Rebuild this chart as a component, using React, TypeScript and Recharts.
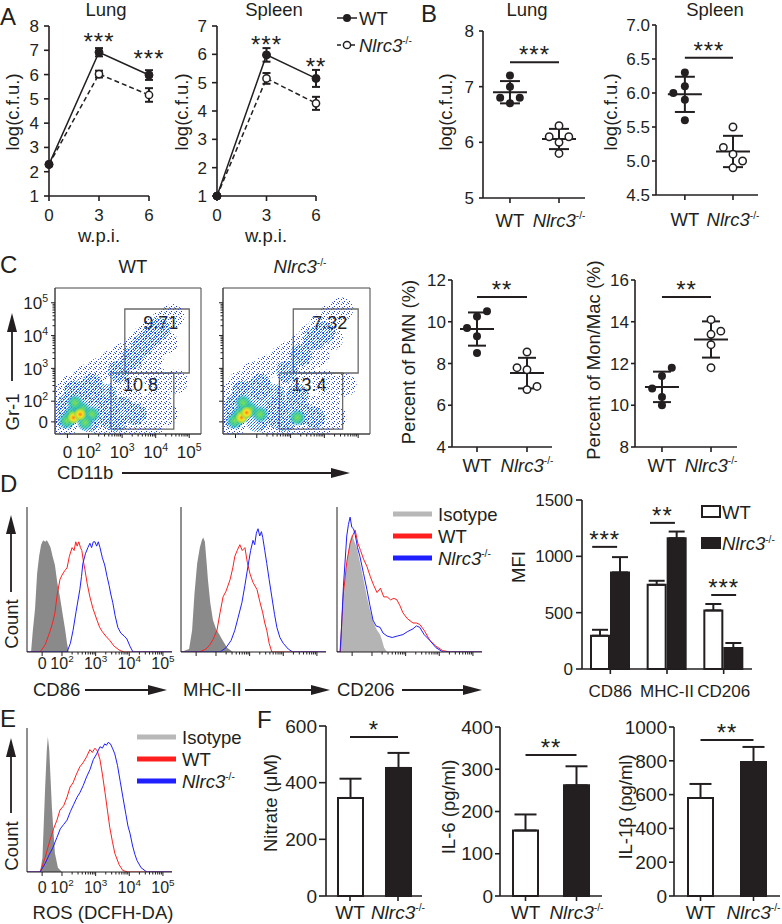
import React from 'react';
import {
  LineChart, Line, XAxis, YAxis, ErrorBar, ScatterChart, Scatter, ReferenceLine,
  ReferenceDot, ReferenceArea, BarChart, Bar, Cell, ComposedChart, Area,
} from 'recharts';

const INK = '#231f20';
const FONT = '"Liberation Sans", Arial, Helvetica, sans-serif';
const RED = '#ff1f1f';
const BLUE = '#1f1fff';
const TICK = 17;
const LBL = 18.5;

// ---- A: c.f.u. after infection (weeks post infection)
const WPI = [0, 3, 6];
const LUNG_TICKS = [1, 2, 3, 4, 5, 6, 7, 8];
const SPLEEN_TICKS = [1, 2, 3, 4, 5, 6, 7];
const LUNG_WT = [2.3, 6.92, 5.98];
const LUNG_WT_SD = [0, 0.17, 0.2];
const LUNG_KO = [2.3, 6.02, 5.16];
const LUNG_KO_SD = [0, 0.14, 0.28];
const SPLEEN_WT = [1.0, 5.98, 5.15];
const SPLEEN_WT_SD = [0, 0.24, 0.3];
const SPLEEN_KO = [1.0, 5.15, 4.27];
const SPLEEN_KO_SD = [0, 0.19, 0.23];
const LUNG_STARS = ['', '***', '***'];
const LUNG_STAR_Y = [0, 7.56, 6.88];
const SPLEEN_STARS = ['', '***', '**'];
const SPLEEN_STAR_Y = [0, 6.51, 5.74];

// ---- B / C: individual mice
const B_LUNG_WT = [7.2, 7.0, 6.8, 6.8, 6.7];
const B_LUNG_KO = [6.3, 6.1, 6.0, 6.1, 5.8];
const B_SPLEEN_WT = [6.3, 6.1, 6.0, 5.9, 5.6];
const B_SPLEEN_KO = [5.5, 5.2, 5.1, 5.0, 4.9];
const PMN_WT = [10.5, 10.25, 9.7, 9.3, 8.5];
const PMN_KO = [8.55, 7.8, 7.7, 6.9, 6.75];
const MON_WT = [11.8, 11.4, 10.8, 10.4, 10.0];
const MON_KO = [14.1, 13.4, 13.55, 12.9, 11.8];
// horizontal spread of overlapping dots (axis units)
const JIT_B_LUNG_WT = [0, 0, -0.2, 0.2, 0];
const JIT_B_LUNG_KO = [0, -0.2, 0, 0.2, 0];
const JIT_B_SPLEEN_WT = [0, 0, -0.24, 0, 0];
const JIT_B_SPLEEN_KO = [0, -0.2, 0, 0.2, 0];
const JIT_PMN_WT = [0.2, 0, -0.2, 0, 0];
const JIT_PMN_KO = [0, -0.2, 0, 0.2, 0];
const JIT_MON_WT = [0.2, 0, -0.2, 0, 0];
const JIT_MON_KO = [0, 0, 0.2, 0, 0];
const B_LUNG_TICKS = [5, 6, 7, 8];
const B_SPLEEN_TICKS = [4.5, 5, 5.5, 6, 6.5, 7];
const PMN_TICKS = [4, 6, 8, 10, 12];
const MON_TICKS = [8, 10, 12, 14, 16];
const B_LUNG_SIG = { y: 7.44, t: '***' };
const B_SPLEEN_SIG = { y: 6.52, t: '***' };
const PMN_SIG = { y: 11.19, t: '**' };
const MON_SIG = { y: 15.19, t: '**' };

// ---- C: flow cytometry (log10 intensity, CD11b vs Gr-1), density levels 1..4
const WT_L1 = [[1.2, 2.2], [1.5, 2.45], [1.9, 2.75], [2.3, 2.95], [2.7, 3.2], [3.0, 3.4], [3.3, 3.6], [3.6, 3.9], [3.9, 4.2], [4.2, 4.4], [4.5, 4.6], [4.3, 3.8], [3.9, 3.4], [3.5, 3.1], [3.1, 2.7], [2.9, 2.3], [3.3, 2.0], [3.7, 1.8], [4.1, 2.1], [4.3, 1.6], [3.9, 1.3], [3.4, 1.3], [2.9, 1.25], [2.4, 1.25], [1.3, 1.25], [2.6, 1.8], [2.1, 2.3], [1.4, 1.8], [4.6, 2.6], [4.0, 2.7]];
const WT_L2 = [[1.4, 1.9], [1.8, 2.1], [2.2, 1.8], [2.5, 2.2], [2.0, 1.4], [1.3, 1.5], [1.2, 1.7], [1.6, 2.3], [2.1, 2.5], [2.6, 1.5], [3.6, 3.7], [3.9, 4.0], [4.1, 4.2], [3.3, 3.3], [2.9, 2.9], [3.0, 1.8], [3.4, 1.6], [2.8, 1.4]];
const WT_L3 = [[1.5, 1.6], [1.8, 1.75], [1.6, 1.95], [2.1, 1.6], [1.35, 1.4], [1.9, 1.35]];
const WT_L4 = [[1.55, 1.5], [1.75, 1.6]];
const KO_L1 = [[1.2, 2.2], [1.5, 2.55], [1.9, 2.85], [2.3, 3.05], [2.7, 3.3], [3.0, 3.5], [3.3, 3.7], [3.6, 4.0], [3.9, 4.3], [4.2, 4.6], [4.5, 4.8], [4.2, 3.9], [3.8, 3.4], [3.4, 3.0], [3.0, 2.6], [2.9, 2.2], [3.3, 2.0], [3.7, 1.8], [4.1, 2.0], [4.3, 1.5], [3.9, 1.3], [3.4, 1.3], [2.9, 1.25], [2.4, 1.25], [1.3, 1.25], [2.6, 1.8], [2.1, 2.4], [1.4, 1.8], [4.6, 2.5], [4.0, 2.6]];
const KO_L2 = [[1.4, 1.9], [1.8, 2.1], [2.2, 1.8], [2.5, 2.2], [2.0, 1.4], [1.3, 1.5], [1.2, 1.7], [1.6, 2.3], [2.1, 2.5], [2.6, 1.5], [3.7, 3.9], [4.0, 4.1], [3.3, 3.4], [2.9, 2.9], [3.0, 1.8], [3.4, 1.6], [2.8, 1.4], [3.2, 2.2], [3.7, 1.5]];
const KO_L3 = [[1.5, 1.6], [1.8, 1.75], [1.6, 1.95], [2.1, 1.6], [1.35, 1.4], [3.2, 1.5]];
const KO_L4 = [[1.55, 1.5], [1.7, 1.65]];
const GATE_HI = { x0: 3.08, x1: 5.0, y0: 2.86, y1: 4.81 };
const GATE_LO = { x0: 2.67, x1: 4.54, y0: 1.15, y1: 2.86 };
const WT_PCT = ['9.71', '10.8'];
const KO_PCT = ['7.32', '13.4'];

// ---- D / E: histograms, [log10 intensity, % of max]
const CD86_ISO = [[0.96, 0], [1.08, 0], [1.13, 14], [1.2, 30], [1.26, 54], [1.32, 66], [1.38, 74], [1.44, 77], [1.5, 76], [1.55, 77], [1.6, 75], [1.66, 72], [1.72, 66], [1.79, 60], [1.86, 48], [1.94, 38], [2.02, 26], [2.09, 16], [2.15, 6], [2.2, 0], [5.27, 0]];
const CD86_WT = [[0.96, 0], [1.35, 0], [1.5, 5], [1.64, 14], [1.72, 20], [1.79, 27], [1.86, 40], [1.94, 50], [2.0, 53], [2.08, 56], [2.15, 58], [2.22, 66], [2.3, 72], [2.36, 70], [2.41, 76], [2.45, 73], [2.5, 76], [2.55, 72], [2.59, 70], [2.64, 62], [2.68, 57], [2.75, 47], [2.83, 38], [2.92, 30], [3.04, 22], [3.12, 17], [3.2, 14], [3.3, 11], [3.42, 8], [3.55, 4], [3.72, 1], [3.85, 0], [5.27, 0]];
const CD86_KO = [[0.96, 0], [2.15, 0], [2.25, 6], [2.33, 15], [2.42, 28], [2.53, 43], [2.58, 52], [2.62, 61], [2.7, 68], [2.77, 72], [2.83, 75], [2.88, 72], [2.93, 76], [2.98, 76], [3.03, 73], [3.08, 76], [3.13, 72], [3.2, 65], [3.27, 60], [3.34, 52], [3.4, 46], [3.45, 40], [3.51, 34], [3.58, 25], [3.66, 17], [3.75, 13], [3.85, 11], [3.93, 9], [4.02, 4], [4.11, 0], [5.27, 0]];
const MHC_ISO = [[0.96, 0], [1.2, 2], [1.29, 15], [1.36, 40], [1.44, 61], [1.52, 72], [1.58, 77], [1.62, 79], [1.67, 76], [1.72, 62], [1.76, 50], [1.83, 34], [1.91, 22], [2.0, 16], [2.1, 12], [2.2, 8], [2.33, 3], [2.5, 0], [5.27, 0]];
const MHC_WT = [[0.96, 0], [1.5, 0], [1.7, 2], [1.82, 5], [1.92, 9], [2.03, 15], [2.12, 27], [2.21, 38], [2.3, 42], [2.42, 50], [2.5, 58], [2.56, 66], [2.63, 70], [2.71, 74], [2.78, 70], [2.86, 72], [2.93, 62], [3.01, 54], [3.1, 48], [3.22, 43], [3.3, 35], [3.39, 27], [3.45, 20], [3.51, 15], [3.58, 6], [3.66, 0], [5.27, 0]];
const MHC_KO = [[0.96, 0], [2.12, 0], [2.3, 3], [2.45, 8], [2.56, 15], [2.66, 24], [2.77, 34], [2.86, 46], [2.95, 59], [3.03, 70], [3.1, 77], [3.15, 74], [3.2, 82], [3.25, 85], [3.3, 80], [3.35, 83], [3.39, 79], [3.45, 70], [3.51, 61], [3.58, 50], [3.66, 38], [3.74, 26], [3.81, 17], [3.9, 10], [4.0, 6], [4.15, 2], [4.28, 0], [5.27, 0]];
const CD206_ISO = [[0.96, 0], [1.05, 0], [1.11, 20], [1.2, 50], [1.3, 70], [1.36, 78], [1.41, 81], [1.48, 76], [1.55, 72], [1.64, 62], [1.73, 52], [1.85, 38], [1.94, 29], [2.05, 20], [2.15, 15], [2.24, 12], [2.3, 8], [2.36, 3], [2.45, 0], [5.27, 0]];
const CD206_WT = [[0.96, 0], [1.06, 0], [1.1, 20], [1.15, 40], [1.25, 62], [1.35, 75], [1.42, 80], [1.5, 84], [1.58, 75], [1.66, 70], [1.75, 64], [1.85, 59], [1.95, 52], [2.05, 46], [2.15, 41], [2.25, 44], [2.35, 38], [2.45, 38], [2.55, 36], [2.65, 37], [2.74, 36], [2.83, 32], [2.92, 27], [3.05, 23], [3.22, 20], [3.32, 20], [3.42, 19], [3.55, 15], [3.72, 8], [3.9, 4], [4.1, 1], [4.31, 0], [5.27, 0]];
const CD206_KO = [[0.96, 0], [1.05, 0], [1.09, 15], [1.15, 45], [1.25, 80], [1.3, 88], [1.35, 93], [1.4, 86], [1.45, 85], [1.5, 81], [1.57, 72], [1.64, 66], [1.75, 54], [1.85, 43], [1.94, 32], [2.03, 22], [2.12, 18], [2.24, 17], [2.33, 13], [2.45, 11], [2.6, 10], [2.75, 11], [2.92, 12], [3.05, 14], [3.22, 16], [3.32, 18], [3.42, 17], [3.55, 12], [3.72, 8], [3.9, 3], [4.11, 0], [5.27, 0]];
const ROS_ISO = [[0.96, 0], [1.35, 0], [1.42, 10], [1.5, 59], [1.55, 85], [1.58, 94], [1.62, 85], [1.7, 45], [1.79, 13], [1.88, 3], [2.0, 0], [5.27, 0]];
const ROS_WT = [[0.96, 0], [1.35, 0], [1.5, 10], [1.64, 22], [1.75, 30], [1.85, 36], [1.94, 43], [2.05, 46], [2.15, 52], [2.24, 59], [2.33, 62], [2.43, 68], [2.53, 73], [2.63, 76], [2.73, 80], [2.83, 85], [2.9, 83], [2.98, 86], [3.05, 84], [3.13, 78], [3.2, 68], [3.28, 55], [3.35, 43], [3.42, 31], [3.5, 21], [3.57, 13], [3.7, 5], [3.81, 1], [3.96, 0], [5.27, 0]];
const ROS_KO = [[0.96, 0], [1.35, 0], [1.5, 6], [1.62, 12], [1.73, 17], [1.85, 24], [1.95, 30], [2.05, 33], [2.15, 36], [2.25, 42], [2.35, 47], [2.45, 52], [2.53, 55], [2.63, 60], [2.73, 66], [2.83, 71], [2.93, 78], [3.03, 82], [3.13, 87], [3.2, 86], [3.27, 89], [3.32, 88], [3.37, 90], [3.44, 89], [3.5, 86], [3.57, 82], [3.65, 74], [3.73, 63], [3.81, 52], [3.9, 40], [3.96, 32], [4.02, 27], [4.1, 18], [4.17, 12], [4.23, 8], [4.35, 3], [4.52, 0], [5.27, 0]];

// ---- D: MFI bars (marker groups on a 0..3 axis)
const MFI_CATS = ['CD86', 'MHC-II', 'CD206'];
const MFI_POS = [0.5, 1.5, 2.5];
const MFI_WT = [295, 747, 520];
const MFI_WT_SD = [53, 36, 57];
const MFI_KO = [857, 1161, 186];
const MFI_KO_SD = [136, 59, 45];
const MFI_TICKS = [0, 500, 1000, 1500];
const MFI_SIG = [
  { x0: 0.18, x1: 0.62, y: 1084, t: '***' },
  { x0: 1.2, x1: 1.64, y: 1297, t: '**' },
  { x0: 2.28, x1: 2.72, y: 657, t: '***' },
];

// ---- F: cytokines
const GROUPS = ['WT', 'Nlrc3'];
const NITRATE = [346, 452];
const NITRATE_SD = [68, 53];
const IL6 = [155, 262];
const IL6_SD = [38, 45];
const IL1B = [580, 793];
const IL1B_SD = [83, 89];
const NITRATE_TICKS = [0, 200, 400, 600];
const IL6_TICKS = [0, 100, 200, 300, 400];
const IL1B_TICKS = [0, 200, 400, 600, 800, 1000];
const NITRATE_SIG = { y: 561, t: '*' };
const IL6_SIG = { y: 334, t: '**' };
const IL1B_SIG = { y: 923, t: '**' };

const HIST_MAJOR = [1.41, 2, 3, 4, 5];
const FLOW_MAJOR = [1.37, 2, 3, 4, 5];
const MINOR = [2, 3, 4].flatMap((d) => [2, 3, 4, 5, 6, 7, 8, 9].map((k) => d + Math.log10(k)));

// layout helpers: plot rect in page px -> chart box
const PAD = { l: 80, r: 30, t: 40, b: 60 };
const YW = 70;
const XH = 50;
const MARGIN = { top: PAD.t, right: PAD.r, bottom: PAD.b - XH, left: PAD.l - YW };
const frame = ([x0, y0, x1, y1]: number[]) => ({
  left: x0 - PAD.l, top: y0 - PAD.t, width: x1 - x0 + PAD.l + PAD.r, height: y1 - y0 + PAD.t + PAD.b,
});
const boxStyle = (f: any) => ({ position: 'absolute' as const, left: f.left, top: f.top, width: f.width, height: f.height });
const AX = { stroke: INK, strokeWidth: 1.6 };
const tickFont = (fs = TICK) => ({ fill: INK, fontSize: fs, fontFamily: FONT });

const Ko = ({ x, y, fs = LBL, anchor = 'start' }: any) => (
  <text x={x} y={y} fontSize={fs} textAnchor={anchor} fill={INK} fontFamily={FONT}>
    <tspan fontStyle="italic">Nlrc3</tspan>
    <tspan fontSize={fs * 0.55} dy={-fs * 0.4}>-/-</tspan>
  </text>
);

const numTick = (dy: number, fs: number) => (p: any) => (
  <text x={p.x} y={p.y + dy} textAnchor="middle" fontSize={fs} fill={INK} fontFamily={FONT}>{p.payload.value}</text>
);
const mfiTick = (dy: number, fs: number) => (p: any) => (
  <text x={p.x} y={p.y + dy} textAnchor="middle" fontSize={fs} fill={INK} fontFamily={FONT}>
    {MFI_CATS[MFI_POS.indexOf(p.payload.value)]}
  </text>
);
const groupTick = (dy: number, fs: number) => (p: any) => {
  const v = p.payload.value;
  if (v === 1 || v === 'WT') {
    return <text x={p.x} y={p.y + dy} textAnchor="middle" fontSize={fs} fill={INK} fontFamily={FONT}>WT</text>;
  }
  return <Ko x={p.x} y={p.y + dy} fs={fs} anchor="middle" />;
};

const Decade = ({ x, y, fs, i, anchor }: any) => (
  <text x={x} y={y} fontSize={fs} textAnchor={anchor} fill={INK} fontFamily={FONT}>
    {i === 0 ? '0' : (
      <>
        10<tspan fontSize={fs * 0.62} dy={-fs * 0.42}>{i + 1}</tspan>
      </>
    )}
  </text>
);
const logTickX = (majors: number[], base: number | null, fs: number) => (p: any) => {
  const i = majors.indexOf(p.payload.value);
  return (
    <g>
      <line x1={p.x} x2={p.x} y1={p.y} y2={p.y + (i >= 0 ? 4 : 2.5)} stroke={INK} strokeWidth={1} />
      {base !== null && i >= 0 && <Decade x={p.x} y={p.y + base} fs={fs} i={i} anchor="middle" />}
    </g>
  );
};
const logTickY = (majors: number[], fs: number, labels: boolean) => (p: any) => {
  const i = majors.indexOf(p.payload.value);
  return (
    <g>
      <line x1={p.x} x2={p.x - (i >= 0 ? 4 : 2.5)} y1={p.y} y2={p.y} stroke={INK} strokeWidth={1} />
      {labels && i >= 0 && <Decade x={p.x - 7} y={p.y + fs * 0.36} fs={fs} i={i} anchor="end" />}
    </g>
  );
};

const starText = (t: string, dy: number) => (p: any) => {
  const vb = p.viewBox || {};
  return (
    <text x={vb.x + (vb.width || 0) / 2} y={vb.y + dy} textAnchor="middle" fontSize={24} letterSpacing={1} fill={INK} fontFamily={FONT}>
      {t}
    </text>
  );
};

const mean = (a: number[]) => a.reduce((s, v) => s + v, 0) / a.length;
const sd = (a: number[]) => {
  const m = mean(a);
  return Math.sqrt(a.reduce((s, v) => s + (v - m) * (v - m), 0) / (a.length - 1));
};

function TimeCourse({ r, ticks, wt, wtSd, ko, koSd, stars, starY }: any) {
  const f = frame(r);
  const data = WPI.map((t, i) => ({ t, wt: wt[i], wtSd: wtSd[i], ko: ko[i], koSd: koSd[i] }));
  return (
    <div style={boxStyle(f)}>
      <LineChart width={f.width} height={f.height} data={data} margin={MARGIN}>
        <XAxis dataKey="t" type="number" domain={[0, 6]} ticks={WPI} interval={0} height={XH}
          tickSize={5} tickMargin={0} axisLine={AX} tickLine={AX} tick={numTick(20, TICK)} />
        <YAxis type="number" domain={[ticks[0], ticks[ticks.length - 1]]} ticks={ticks} interval={0} width={YW}
          tickSize={5} tickMargin={5} axisLine={AX} tickLine={AX} tick={tickFont()} />
        <Line dataKey="ko" stroke={INK} strokeWidth={1.5} strokeDasharray="5 3"
          dot={{ r: 3.6, fill: '#fff', stroke: INK, strokeWidth: 1.5, strokeDasharray: '0' }} isAnimationActive={false}>
          <ErrorBar dataKey="koSd" width={4} stroke={INK} strokeWidth={2} direction="y" />
        </Line>
        <Line dataKey="wt" stroke={INK} strokeWidth={1.5}
          dot={{ r: 4, fill: INK, stroke: INK, strokeWidth: 1 }} isAnimationActive={false}>
          <ErrorBar dataKey="wtSd" width={4} stroke={INK} strokeWidth={2} direction="y" />
        </Line>
        {WPI.map((t, i) => (stars[i]
          ? <ReferenceDot key={t} x={t} y={starY[i]} r={0} label={starText(stars[i], 13.5)} />
          : null))}
      </LineChart>
    </div>
  );
}

const MeanMark = (p: any) => (
  <line x1={p.cx - 17} x2={p.cx + 17} y1={p.cy} y2={p.cy} stroke={INK} strokeWidth={2} />
);
const FilledDot = (p: any) => <circle cx={p.cx} cy={p.cy} r={4} fill={INK} />;
const OpenDot = (p: any) => <circle cx={p.cx} cy={p.cy} r={3.7} fill="#fff" stroke={INK} strokeWidth={1.5} />;

function DotPlot({ r, xDomain, ticks, fmt, wt, ko, wtJit, koJit, sig, cap, labelDy, tickMargin }: any) {
  const f = frame(r);
  const wtPts = wt.map((y: number, i: number) => ({ x: 1 + wtJit[i], y }));
  const koPts = ko.map((y: number, i: number) => ({ x: 2 + koJit[i], y }));
  const stats = [{ x: 1, y: mean(wt), e: sd(wt) }, { x: 2, y: mean(ko), e: sd(ko) }];
  return (
    <div style={boxStyle(f)}>
      <ScatterChart width={f.width} height={f.height} margin={MARGIN}>
        <XAxis type="number" dataKey="x" domain={xDomain} ticks={[1, 2]} interval={0} height={XH}
          tickSize={5} tickMargin={0} axisLine={AX} tickLine={AX} tick={groupTick(labelDy, LBL)} />
        <YAxis type="number" dataKey="y" domain={[ticks[0], ticks[ticks.length - 1]]} ticks={ticks} interval={0}
          width={YW} tickSize={4} tickMargin={tickMargin} axisLine={AX} tickLine={AX} tick={tickFont()} tickFormatter={fmt} />
        <Scatter data={stats} shape={MeanMark} isAnimationActive={false}>
          <ErrorBar dataKey="e" direction="y" width={cap} stroke={INK} strokeWidth={2} />
        </Scatter>
        <Scatter data={wtPts} shape={FilledDot} isAnimationActive={false} />
        <Scatter data={koPts} shape={OpenDot} isAnimationActive={false} />
        <ReferenceLine segment={[{ x: 1, y: sig.y }, { x: 2, y: sig.y }]} stroke={INK} strokeWidth={2}
          label={starText(sig.t, 1)} />
      </ScatterChart>
    </div>
  );
}

const cloudShape = (rad: number, fill: string) => (p: any) => <circle cx={p.cx} cy={p.cy} r={rad} fill={fill} />;
const gateLabel = (t: string, side: 'left' | 'right', dx: number, dy: number) => (p: any) => {
  const vb = p.viewBox || {};
  const x = side === 'right' ? vb.x + vb.width + dx : vb.x + dx;
  return (
    <text x={x} y={vb.y + dy} textAnchor={side === 'right' ? 'end' : 'start'} fontSize={18} fill={INK} fontFamily={FONT}>{t}</text>
  );
};

function FlowPlot({ r, l1, l2, l3, l4, pct, labels }: any) {
  const f = frame(r);
  const pts = (a: number[][]) => a.map(([x, y]) => ({ x, y }));
  const ticks = [...FLOW_MAJOR, ...MINOR];
  return (
    <div style={boxStyle(f)}>
      <ScatterChart width={f.width} height={f.height} margin={MARGIN}>
        <XAxis type="number" dataKey="x" domain={[1, 5.35]} allowDataOverflow ticks={ticks} interval={0} height={XH}
          tickSize={0} tickMargin={0} tickLine={false} axisLine={{ stroke: '#444' }}
          tick={logTickX(FLOW_MAJOR, labels ? 24 : null, 17)} />
        <YAxis type="number" dataKey="y" domain={[1, 5.45]} allowDataOverflow ticks={ticks} interval={0} width={YW}
          tickSize={0} tickMargin={0} tickLine={false} axisLine={{ stroke: '#444' }} tick={logTickY(FLOW_MAJOR, 17, labels)} />
        <Scatter data={pts(l1)} shape={cloudShape(12, 'url(#spk1)')} isAnimationActive={false} />
        <Scatter data={pts(l2)} shape={cloudShape(11, 'url(#spk2)')} isAnimationActive={false} />
        <Scatter data={pts(l3)} shape={cloudShape(9, 'url(#grn)')} isAnimationActive={false} />
        <Scatter data={pts(l4)} shape={cloudShape(6.5, 'url(#ylw)')} isAnimationActive={false} />
        <ReferenceArea x1={1} x2={5.35} y1={1} y2={5.45} fill="none" stroke="#444" strokeWidth={1} ifOverflow="visible" />
        <ReferenceArea x1={GATE_HI.x0} x2={GATE_HI.x1} y1={GATE_HI.y0} y2={GATE_HI.y1} fill="none" fillOpacity={0}
          stroke="#6a6a6a" strokeWidth={1.3} label={gateLabel(pct[0], 'right', -11, 20.5)} />
        <ReferenceArea x1={GATE_LO.x0} x2={GATE_LO.x1} y1={GATE_LO.y0} y2={GATE_LO.y1} fill="none" fillOpacity={0}
          stroke="#6a6a6a" strokeWidth={1.3} label={gateLabel(pct[1], 'left', 12, 18.5)} />
      </ScatterChart>
    </div>
  );
}

function Hist({ r, iso, wt, ko, isoFill, labelBase }: any) {
  const f = frame(r);
  const pts = (a: number[][]) => a.map(([x, c]) => ({ x, c }));
  return (
    <div style={boxStyle(f)}>
      <ComposedChart width={f.width} height={f.height} margin={MARGIN}>
        <XAxis type="number" dataKey="x" domain={[0.96, 5.27]} allowDataOverflow ticks={[...HIST_MAJOR, ...MINOR]}
          interval={0} height={XH} tickSize={0} tickMargin={0} tickLine={false} axisLine={{ stroke: INK }}
          tick={logTickX(HIST_MAJOR, labelBase, 16)} />
        <YAxis type="number" domain={[0, 100]} allowDataOverflow tick={false} tickLine={false} axisLine={{ stroke: INK }} width={YW} />
        <Area data={pts(iso)} dataKey="c" type="linear" fill={isoFill} fillOpacity={1} stroke="none" isAnimationActive={false} />
        <Line data={pts(wt)} dataKey="c" type="linear" stroke={RED} strokeWidth={1} dot={false} isAnimationActive={false} />
        <Line data={pts(ko)} dataKey="c" type="linear" stroke={BLUE} strokeWidth={1} dot={false} isAnimationActive={false} />
      </ComposedChart>
    </div>
  );
}

function TwoBars({ r, vals, sds, ticks, sig, ySize }: any) {
  const f = frame(r);
  const data = GROUPS.map((g, i) => ({ g, v: vals[i], e: [0, sds[i]] }));
  return (
    <div style={boxStyle(f)}>
      <BarChart width={f.width} height={f.height} data={data} margin={MARGIN}>
        <XAxis dataKey="g" height={XH} tickSize={5} tickMargin={0} axisLine={AX} tickLine={AX} interval={0}
          tick={groupTick(17.5, 19)} />
        <YAxis type="number" domain={[0, ticks[ticks.length - 1]]} ticks={ticks} interval={0} width={YW}
          tickSize={ySize} tickMargin={2} axisLine={AX} tickLine={AX} tick={tickFont(19)} />
        <Bar dataKey="v" barSize={25} stroke={INK} strokeWidth={2} isAnimationActive={false}>
          {data.map((d, i) => <Cell key={d.g} fill={i === 0 ? '#fff' : INK} />)}
          <ErrorBar dataKey="e" direction="y" width={11} stroke={INK} strokeWidth={2} />
        </Bar>
        <ReferenceLine segment={[{ x: 'WT', y: sig.y }, { x: 'Nlrc3', y: sig.y }]} stroke={INK} strokeWidth={2}
          label={starText(sig.t, 1)} />
      </BarChart>
    </div>
  );
}

function MfiBars({ r }: any) {
  const f = frame(r);
  const data = MFI_CATS.map((c, i) => ({
    x: MFI_POS[i], wt: MFI_WT[i], ko: MFI_KO[i], wtE: [0, MFI_WT_SD[i]], koE: [0, MFI_KO_SD[i]],
  }));
  return (
    <div style={boxStyle(f)}>
      <BarChart width={f.width} height={f.height} data={data} margin={MARGIN} barGap={2}>
        <XAxis dataKey="x" type="number" domain={[0, 3]} ticks={MFI_POS} interval={0} height={XH}
          tickSize={5} tickMargin={0} axisLine={AX} tickLine={AX} tick={mfiTick(22.5, 17)} />
        <YAxis type="number" domain={[0, 1500]} ticks={MFI_TICKS} interval={0} width={YW}
          tickSize={6} tickMargin={3} axisLine={AX} tickLine={AX} tick={tickFont()} />
        <Bar dataKey="wt" barSize={18} fill="#fff" stroke={INK} strokeWidth={2} isAnimationActive={false}>
          <ErrorBar dataKey="wtE" direction="y" width={8} stroke={INK} strokeWidth={2} />
        </Bar>
        <Bar dataKey="ko" barSize={18} fill={INK} stroke={INK} strokeWidth={2} isAnimationActive={false}>
          <ErrorBar dataKey="koE" direction="y" width={8} stroke={INK} strokeWidth={2} />
        </Bar>
        {MFI_SIG.map((s) => (
          <ReferenceLine key={s.x0} segment={[{ x: s.x0, y: s.y }, { x: s.x1, y: s.y }]}
            stroke={INK} strokeWidth={2} label={starText(s.t, 1)} />
        ))}
      </BarChart>
    </div>
  );
}

const T = ({ x, y, children, fs = LBL, anchor = 'middle' }: any) => (
  <text x={x} y={y} fontSize={fs} textAnchor={anchor} fill={INK} fontFamily={FONT}>{children}</text>
);
const VT = ({ x, y, children, fs = LBL }: any) => (
  <text transform={`translate(${x},${y}) rotate(-90)`} textAnchor="middle" dominantBaseline="central"
    fontSize={fs} fill={INK} fontFamily={FONT}>{children}</text>
);
const ArrowR = ({ x1, x2, y }: any) => (
  <g>
    <line x1={x1} x2={x2 - 14} y1={y} y2={y} stroke={INK} strokeWidth={1.8} />
    <polygon points={`${x2},${y} ${x2 - 19},${y - 5} ${x2 - 19},${y + 5}`} fill={INK} />
  </g>
);
const ArrowU = ({ x, y1, y2 }: any) => (
  <g>
    <line x1={x} x2={x} y1={y1} y2={y2 + 14} stroke={INK} strokeWidth={1.8} />
    <polygon points={`${x},${y2} ${x - 5},${y2 + 19} ${x + 5},${y2 + 19}`} fill={INK} />
  </g>
);
const HistLegend = ({ x, y, gap }: any) => (
  <g>
    <line x1={x} x2={x + 39} y1={y} y2={y} stroke="#b8b8b8" strokeWidth={5} />
    <line x1={x} x2={x + 39} y1={y + gap} y2={y + gap} stroke={RED} strokeWidth={5} />
    <line x1={x} x2={x + 39} y1={y + 2 * gap} y2={y + 2 * gap} stroke={BLUE} strokeWidth={5} />
    <T x={x + 45} y={y + 6.5} anchor="start">Isotype</T>
    <T x={x + 45} y={y + gap + 6.5} anchor="start">WT</T>
    <Ko x={x + 45} y={y + 2 * gap + 6.5} />
  </g>
);

function Overlay() {
  return (
    <svg width={782} height={924} style={{ position: 'absolute', left: 0, top: 0, pointerEvents: 'none' }}>
      {/* A */}
      <T x={0} y={25} fs={24} anchor="start">A</T>
      <T x={106} y={16}>Lung</T>
      <T x={274} y={16}>Spleen</T>
      <VT x={12} y={112}>log(c.f.u.)</VT>
      <VT x={181} y={112}>log(c.f.u.)</VT>
      <T x={99} y={242}>w.p.i.</T>
      <T x={266} y={242}>w.p.i.</T>
      <line x1={337} x2={357} y1={18} y2={18} stroke={INK} strokeWidth={1.5} />
      <circle cx={347} cy={18} r={4} fill={INK} />
      <T x={359} y={24.5} anchor="start">WT</T>
      <line x1={337} x2={357} y1={45} y2={45} stroke={INK} strokeWidth={1.5} strokeDasharray="4 3" />
      <circle cx={347} cy={45} r={3.6} fill="#fff" stroke={INK} strokeWidth={1.5} />
      <Ko x={359} y={51.5} />
      {/* B */}
      <T x={421} y={22} fs={24} anchor="start">B</T>
      <T x={527} y={16}>Lung</T>
      <T x={715} y={16}>Spleen</T>
      <VT x={445} y={112}>log(c.f.u.)</VT>
      <VT x={610} y={112}>log(c.f.u.)</VT>
      {/* C */}
      <T x={0} y={273} fs={24} anchor="start">C</T>
      <T x={133} y={273}>WT</T>
      <Ko x={300} y={273} anchor="middle" />
      <ArrowU x={12} y1={381} y2={313} />
      <VT x={12} y={412}>Gr-1</VT>
      <T x={57} y={479} anchor="start">CD11b</T>
      <ArrowR x1={122} x2={350} y={473} />
      <VT x={408} y={362}>Percent of PMN (%)</VT>
      <VT x={593} y={360}>Percent of Mon/Mac (%)</VT>
      {/* D */}
      <T x={0} y={492} fs={24} anchor="start">D</T>
      <ArrowU x={11} y1={592} y2={515} />
      <VT x={11} y={624}>Count</VT>
      <T x={33} y={696} anchor="start">CD86</T>
      <ArrowR x1={85} x2={167} y={690} />
      <T x={183} y={696} anchor="start">MHC-II</T>
      <ArrowR x1={245} x2={330} y={690} />
      <T x={337} y={696} anchor="start">CD206</T>
      <ArrowR x1={402} x2={482} y={690} />
      <HistLegend x={393} y={514} gap={22} />
      <VT x={518} y={567}>MFI</VT>
      <rect x={702} y={506} width={18} height={11} fill="#fff" stroke={INK} strokeWidth={2} />
      <T x={722} y={518.5} anchor="start">WT</T>
      <rect x={702} y={538} width={18} height={10} fill={INK} stroke={INK} strokeWidth={2} />
      <Ko x={722} y={550} />
      {/* E */}
      <T x={0} y={727} fs={24} anchor="start">E</T>
      <ArrowU x={11} y1={813} y2={738} />
      <VT x={11} y={846}>Count</VT>
      <T x={103} y={919}>ROS (DCFH-DA)</T>
      <HistLegend x={137} y={737} gap={22} />
      {/* F */}
      <T x={257} y={728} fs={24} anchor="start">F</T>
      <VT x={270} y={803}>Nitrate (μM)</VT>
      <VT x={448} y={807}>IL-6 (pg/ml)</VT>
      <VT x={625} y={807}>IL-1β (pg/ml)</VT>
    </svg>
  );
}

function Defs() {
  return (
    <svg width={0} height={0} style={{ position: 'absolute', left: 0, top: 0 }}>
      <defs>
        <pattern id="spk1" width={5} height={5} patternUnits="userSpaceOnUse">
          <rect x={0} y={0} width={1} height={1} fill="#2535c8" />
          <rect x={3} y={1} width={1} height={1} fill="#3050d8" />
          <rect x={1} y={3} width={1} height={1} fill="#1f2cb8" />
          <rect x={4} y={4} width={1} height={1} fill="#4a7ae8" />
        </pattern>
        <pattern id="spk2" width={3} height={3} patternUnits="userSpaceOnUse">
          <rect x={0} y={0} width={1} height={1} fill="#2a44d8" />
          <rect x={2} y={1} width={1} height={1} fill="#3a80ea" />
          <rect x={1} y={2} width={1} height={1} fill="#30b0f0" />
        </pattern>
        <radialGradient id="grn">
          <stop offset="0%" stopColor="#7ee04a" stopOpacity={1} />
          <stop offset="55%" stopColor="#2ec8a0" stopOpacity={0.85} />
          <stop offset="100%" stopColor="#30a0e0" stopOpacity={0} />
        </radialGradient>
        <radialGradient id="ylw">
          <stop offset="0%" stopColor="#ff7a1a" stopOpacity={1} />
          <stop offset="40%" stopColor="#ffe020" stopOpacity={1} />
          <stop offset="80%" stopColor="#9be040" stopOpacity={0.8} />
          <stop offset="100%" stopColor="#60d060" stopOpacity={0} />
        </radialGradient>
      </defs>
    </svg>
  );
}

export default function App() {
  return (
    <div style={{ position: 'absolute', left: 0, top: 0, width: 782, height: 924, background: '#fff', overflow: 'hidden', fontFamily: FONT }}>
      <Defs />
      <TimeCourse r={[49, 26, 149, 196]} ticks={LUNG_TICKS} wt={LUNG_WT} wtSd={LUNG_WT_SD} ko={LUNG_KO} koSd={LUNG_KO_SD}
        stars={LUNG_STARS} starY={LUNG_STAR_Y} />
      <TimeCourse r={[217, 26, 316, 196]} ticks={SPLEEN_TICKS} wt={SPLEEN_WT} wtSd={SPLEEN_WT_SD} ko={SPLEEN_KO} koSd={SPLEEN_KO_SD}
        stars={SPLEEN_STARS} starY={SPLEEN_STAR_Y} />
      <DotPlot r={[483, 31, 585, 198]} xDomain={[0.45, 2.53]} ticks={B_LUNG_TICKS} wt={B_LUNG_WT} ko={B_LUNG_KO}
        wtJit={JIT_B_LUNG_WT} koJit={JIT_B_LUNG_KO} sig={B_LUNG_SIG} cap={10} labelDy={23.5} tickMargin={5} />
      <DotPlot r={[656, 25, 758, 195]} xDomain={[0.4, 2.52]} ticks={B_SPLEEN_TICKS} fmt={(v: number) => v.toFixed(1)}
        wt={B_SPLEEN_WT} ko={B_SPLEEN_KO} wtJit={JIT_B_SPLEEN_WT} koJit={JIT_B_SPLEEN_KO} sig={B_SPLEEN_SIG} cap={10}
        labelDy={26} tickMargin={2} />
      <FlowPlot r={[55, 288, 201, 434]} l1={WT_L1} l2={WT_L2} l3={WT_L3} l4={WT_L4} pct={WT_PCT} labels />
      <FlowPlot r={[223, 288, 370, 434]} l1={KO_L1} l2={KO_L2} l3={KO_L3} l4={KO_L4} pct={KO_PCT} labels={false} />
      <DotPlot r={[452, 280, 552, 447]} xDomain={[0.5, 2.5]} ticks={PMN_TICKS} wt={PMN_WT} ko={PMN_KO}
        wtJit={JIT_PMN_WT} koJit={JIT_PMN_KO} sig={PMN_SIG} cap={9} labelDy={19.5} tickMargin={2} />
      <DotPlot r={[635, 280, 737, 447]} xDomain={[0.45, 2.53]} ticks={MON_TICKS} wt={MON_WT} ko={MON_KO}
        wtJit={JIT_MON_WT} koJit={JIT_MON_KO} sig={MON_SIG} cap={9} labelDy={19.5} tickMargin={2} />
      <Hist r={[27, 507, 172, 652]} iso={CD86_ISO} wt={CD86_WT} ko={CD86_KO} isoFill="#8a8a8a" labelBase={17} />
      <Hist r={[181, 507, 326, 652]} iso={MHC_ISO} wt={MHC_WT} ko={MHC_KO} isoFill="#8a8a8a" labelBase={null} />
      <Hist r={[337, 507, 482, 652]} iso={CD206_ISO} wt={CD206_WT} ko={CD206_KO} isoFill="#b4b4b4" labelBase={null} />
      <MfiBars r={[582, 500, 752, 669]} />
      <Hist r={[27, 728, 172, 872]} iso={ROS_ISO} wt={ROS_WT} ko={ROS_KO} isoFill="#8a8a8a" labelBase={21} />
      <TwoBars r={[326, 726, 422, 896]} vals={NITRATE} sds={NITRATE_SD} ticks={NITRATE_TICKS} sig={NITRATE_SIG} ySize={7} />
      <TwoBars r={[500, 727, 602, 896]} vals={IL6} sds={IL6_SD} ticks={IL6_TICKS} sig={IL6_SIG} ySize={5} />
      <TwoBars r={[674, 727, 780, 896]} vals={IL1B} sds={IL1B_SD} ticks={IL1B_TICKS} sig={IL1B_SIG} ySize={5} />
      <Overlay />
    </div>
  );
}
